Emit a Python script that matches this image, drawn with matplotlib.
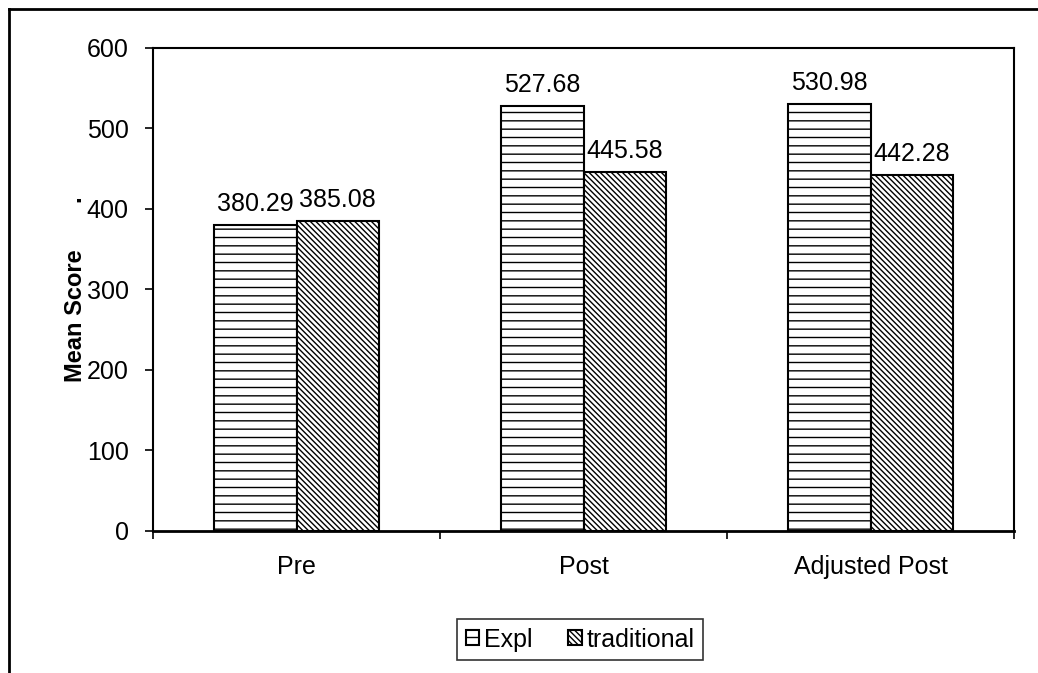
import matplotlib.pyplot as plt
from matplotlib.lines import Line2D
import numpy as np

plt.rcParams['font.family'] = ['Liberation Sans', 'DejaVu Sans']
plt.rcParams['hatch.linewidth'] = 1.0

# mean scores per test occasion
occasions = ['Pre', 'Post', 'Adjusted Post']
expl_scores = [380.29, 527.68, 530.98]
trad_scores = [385.08, 445.58, 442.28]
yticks = [0, 100, 200, 300, 400, 500, 600]

fig = plt.figure(figsize=(10.38, 6.73), dpi=100)
ax = fig.add_axes([0.1474, 0.211, 0.8295, 0.7177])

x = np.arange(len(occasions))
w = 0.286
b1 = ax.bar(x - w / 2, expl_scores, w, color='white', edgecolor='black',
            hatch='--', linewidth=1.5, label='Expl')
b2 = ax.bar(x + w / 2, trad_scores, w, color='white', edgecolor='black',
            hatch='\\' * 6, linewidth=1.5, label='traditional')

for bars, vals in ((b1, expl_scores), (b2, trad_scores)):
    for r, v in zip(bars, vals):
        ax.annotate('%.2f' % v, (r.get_x() + r.get_width() / 2, v),
                    xytext=(0, 6.5), textcoords='offset points',
                    ha='center', va='bottom', fontsize=18)

ax.set_xlim(-0.5, len(occasions) - 0.5)
ax.set_ylim(0, 600)
ax.set_yticks(yticks)
ax.set_xticks(np.arange(len(occasions) + 1) - 0.5)
ax.set_xticklabels([])
ax.set_xticks(x, minor=True)
ax.set_xticklabels(occasions, minor=True)
ax.tick_params(axis='x', which='major', direction='out', length=5.5, width=1.2)
ax.tick_params(axis='x', which='minor', length=0, pad=17, labelsize=18)
ax.tick_params(axis='y', direction='out', length=5.5, width=1.2, pad=12,
               labelsize=18)
for s in ax.spines.values():
    s.set_linewidth(1.5)
ax.spines['bottom'].set_linewidth(2)

ax.set_ylabel('Mean Score       .', fontsize=17, fontweight='bold', labelpad=0)

leg = ax.legend(loc='center', bbox_to_anchor=(0.496, -0.225), ncol=2,
                fontsize=18, frameon=True, fancybox=False, edgecolor='black',
                handlelength=0.55, handleheight=0.55, handletextpad=0.2,
                columnspacing=1.4, borderpad=0.35, borderaxespad=0)
leg.get_frame().set_linewidth(1.2)

# outer chart frame
fig.add_artist(Line2D([0.0087, 0.0087], [0, 0.9866], color='black', lw=2))
fig.add_artist(Line2D([0.0087, 1], [0.9866, 0.9866], color='black', lw=2))

fig.savefig('out.png', dpi=100)
